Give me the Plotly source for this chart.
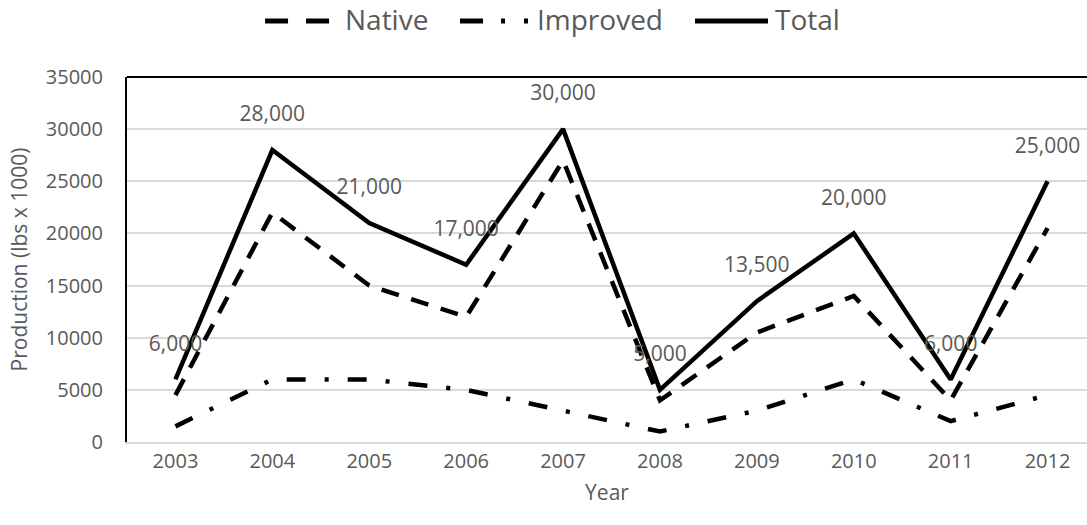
import plotly.graph_objects as go

years = ["2003", "2004", "2005", "2006", "2007", "2008", "2009", "2010", "2011", "2012"]
native = [4500, 22000, 15000, 12000, 27000, 4000, 10500, 14000, 4000, 20500]
improved = [1500, 6000, 6000, 5000, 3000, 1000, 3000, 6000, 2000, 4500]
total = [6000, 28000, 21000, 17000, 30000, 5000, 13500, 20000, 6000, 25000]
y_ticks = [0, 5000, 10000, 15000, 20000, 25000, 30000, 35000]

FONT = "Open Sans"
GRAY = "#595959"
LW = 4.5

series = [
    ("Native", native, "18px,13px", "23px,18px"),
    ("Improved", improved, "19px,19px,4px,19px", "23px,18px,4px,19px,4px,40px"),
    ("Total", total, "solid", "solid"),
]

fig = go.Figure()
for name, vals, dash, _ in series:
    fig.add_trace(go.Scatter(x=years, y=vals, name=name, mode="lines", showlegend=False,
                             line=dict(color="black", width=LW, dash=dash)))

# value labels above the Total line (invisible marker pushes text upward)
fig.add_trace(go.Scatter(x=years, y=total, mode="markers+text", showlegend=False,
                         text=[f"{v:,}" for v in total], textposition="top center",
                         marker=dict(size=36, opacity=0),
                         textfont=dict(family=FONT, size=21, color=GRAY),
                         cliponaxis=False, hoverinfo="skip"))

# black frame line along the top of the plot area
fig.add_shape(type="line", xref="paper", yref="paper", x0=0, x1=1, y0=1, y1=1,
              line=dict(color="black", width=2))

# legend row: long line samples followed by series names
legend_y = 1.1534
legend_slots = [(0.1438, 0.2115, 0.225), (0.3469, 0.4229, 0.4255), (0.5917, 0.6677, 0.673)]
for (name, _, _, key_dash), (x0, x1, xt) in zip(series, legend_slots):
    fig.add_shape(type="line", xref="paper", yref="paper", x0=x0, x1=x1,
                  y0=legend_y, y1=legend_y,
                  line=dict(color="black", width=5, dash=key_dash))
    fig.add_annotation(xref="paper", yref="paper", x=xt, y=legend_y + 0.005,
                       xanchor="left", yanchor="middle", showarrow=False, text=name,
                       font=dict(family=FONT, size=28, color=GRAY))

fig.update_layout(
    width=1087, height=525,
    margin=dict(l=127, r=0, t=77, b=83),
    paper_bgcolor="white", plot_bgcolor="white",
    font=dict(family=FONT, color=GRAY),
    showlegend=False,
    xaxis=dict(type="category", range=[-0.5, 9.407], showgrid=False,
               showline=True, linecolor="#d9d9d9", linewidth=2, ticks="",
               tickfont=dict(family=FONT, size=20, color=GRAY),
               title=dict(text="Year", font=dict(family=FONT, size=21, color=GRAY), standoff=12)),
    yaxis=dict(range=[0, 35000], tickvals=y_ticks, ticktext=[str(v) for v in y_ticks],
               showgrid=True, gridcolor="#d9d9d9",
               gridwidth=1.5, zeroline=False, showline=True, linecolor="black", linewidth=2,
               ticks="", ticklabelstandoff=18,
               tickfont=dict(family=FONT, size=20, color=GRAY),
               title=dict(text="Production (lbs x 1000)",
                          font=dict(family=FONT, size=21, color=GRAY), standoff=12)),
)

fig.write_html("out.html")
